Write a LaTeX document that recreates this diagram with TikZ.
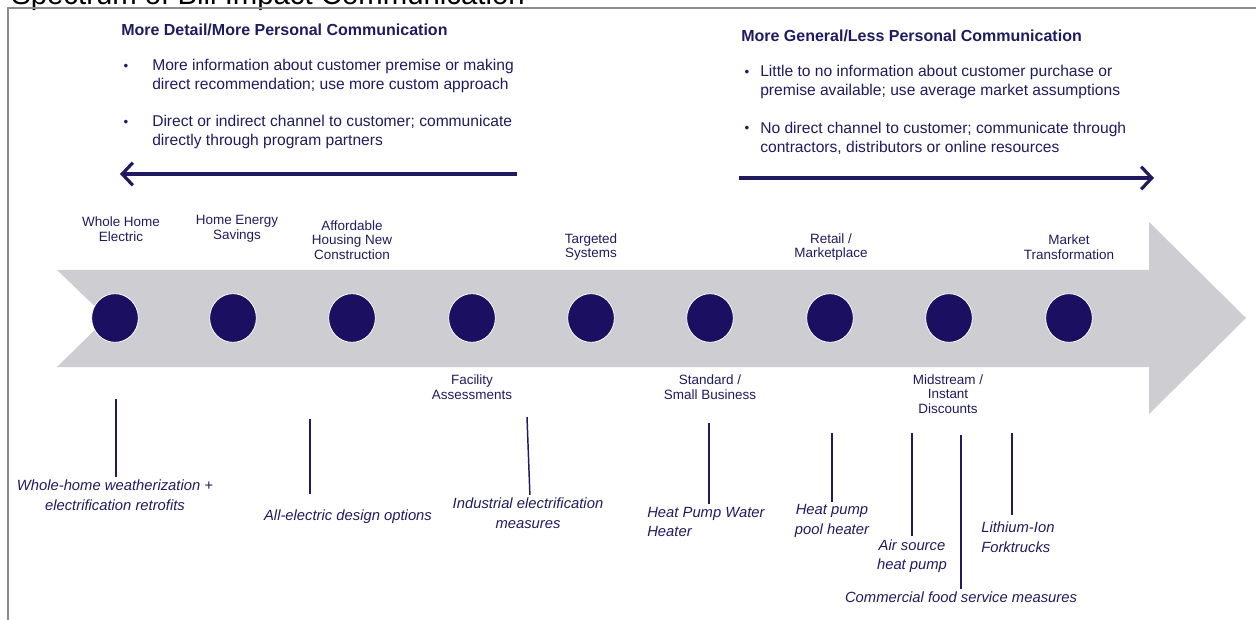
\documentclass[tikz,border=0pt]{standalone}
\usepackage{fontspec}
\setmainfont{Liberation Sans}
\usetikzlibrary{calc,shapes.geometric,arrows.meta}

\definecolor{navy}{RGB}{32,27,96}
\definecolor{dotblue}{RGB}{26,15,96}
\definecolor{bandgray}{RGB}{205,205,210}
\definecolor{framegray}{RGB}{140,140,140}

\begin{document}
\begin{tikzpicture}[x=0.75pt, y=-0.75pt,
  stop/.style={ellipse, fill=dotblue, draw=white, line width=0.6pt, minimum width=35pt, minimum height=36.5pt, inner sep=0pt},
  stage/.style={text=navy, align=center, font=\fontsize{10.1}{10.9}\selectfont, inner sep=0pt},
  measure/.style={text=navy, align=center, font=\fontsize{11.1}{14.6}\selectfont\itshape, inner sep=0pt},
  heading/.style={text=navy, anchor=west, font=\fontsize{12}{14}\selectfont\bfseries, inner sep=0pt},
  point/.style={text=navy, anchor=west, align=left, font=\fontsize{11.7}{14.25}\selectfont, inner sep=0pt},
  dot/.style={text=navy, font=\fontsize{10}{10}\selectfont, inner sep=0pt},
  leader/.style={navy, line width=1.1pt, shorten >=2pt},
  spread/.style={navy, line width=2.6pt, -{Straight Barb[length=8pt, width=17pt, line width=2.4pt]}}]

\useasboundingbox (0,0) rectangle (1256,620);

\node[anchor=base west, inner sep=0pt, font=\fontsize{22}{24}\selectfont] (title) at (11,5) {Spectrum of Bill Impact Communication};

\draw[framegray, line width=1.5pt] (8,620) -- (8,8) -- (1256,8);

% left side: detailed communication
\node[heading] (detail) at (121,30) {More Detail/More Personal Communication};

\node[dot] (d1dot) at (126,67) {•};
\node[point] (d1) at (152,76) {More information about customer premise or making\\direct recommendation; use more custom approach};

\node[dot] (d2dot) at (126,123) {•};
\node[point] (d2) at (152,132) {Direct or indirect channel to customer; communicate\\directly through program partners};

\coordinate (la) at (517,174);
\coordinate (lb) at (120,174);
\draw[spread] (la) -- (lb);

% right side: general communication
\node[heading] (general) at (741,36) {More General/Less Personal Communication};

\node[dot] (g1dot) at (747,73) {•};
\node[point] (g1) at (760,82) {Little to no information about customer purchase or\\premise available; use average market assumptions};

\node[dot] (g2dot) at (747,129) {•};
\node[point] (g2) at (760,138) {No direct channel to customer; communicate through\\contractors, distributors or online resources};

\coordinate (ra) at (739,178);
\coordinate (rb) at (1154,178);
\draw[spread] (ra) -- (rb);

% the band
\fill[bandgray] (57,270) -- (1149,270) -- (1149,222) -- (1246,318) -- (1149,414) -- (1149,367) -- (57,367) -- (107,318) -- cycle;

\node[stop] (c1) at (115,318) {};
\node[stop] (c2) at (233,318) {};
\node[stop] (c3) at (352,318) {};
\node[stop] (c4) at (472,318) {};
\node[stop] (c5) at (591,318) {};
\node[stop] (c6) at (710,318) {};
\node[stop] (c7) at (830,318) {};
\node[stop] (c8) at (949,318) {};
\node[stop] (c9) at (1069,318) {};

\node[stage] (s1) at ($(c1) + (6,-89)$) {Whole Home\\Electric};
\node[stage] (s2) at ($(c2) + (4,-89)$) {Home Energy\\Savings};
\node[stage] (s3) at ($(c3) + (0,-78)$) {Affordable\\Housing New\\Construction};
\node[stage] (s4) at ($(c4) + (0,69)$) {Facility\\Assessments};
\node[stage] (s5) at ($(c5) + (0,-71)$) {Targeted\\Systems};
\node[stage] (s6) at ($(c6) + (0,69)$) {Standard /\\Small Business};
\node[stage] (s7) at ($(c7) + (1,-71)$) {Retail /\\Marketplace};
\node[stage] (s8) at ($(c8) + (-1,76)$) {Midstream /\\Instant\\Discounts};
\node[stage] (s9) at ($(c9) + (0,-71)$) {Market\\Transformation};

% measures hanging below the band
\node[measure] (m1) at (115,495) {Whole-home weatherization +\\electrification retrofits};
\node[measure] (m2) at (348,517) {All-electric design options};
\node[measure] (m3) at (528,513) {Industrial electrification\\measures};
\node[measure, anchor=west, align=left] (m4) at (647,522) {Heat Pump Water\\Heater};
\node[measure] (m5) at (832,521) {Heat pump\\pool heater};
\node[measure] (m6) at (912,556) {Air source\\heat pump};
\node[measure] (m7) at (961,597) {Commercial food service measures};
\node[measure, anchor=west, align=left] (m8) at (981,537) {Lithium-Ion\\Forktrucks};

\coordinate (t1) at (116,399);
\coordinate (t2) at (310,419);
\coordinate (t3) at (527,417);
\coordinate (t4) at (709,423);
\coordinate (t5) at (832,433);
\coordinate (t6) at (912,433);
\coordinate (t7) at (961,435);
\coordinate (t8) at (1012,433);

\draw[leader] (t1) -- (t1 |- m1.north);
\draw[leader, shorten >=12pt] (t2) -- (t2 |- m2.north);
\draw[leader] (t3) -- ([xshift=1.5pt]m3.north);
\draw[leader] (t4) -- (t4 |- m4.north);
\draw[leader] (t5) -- (t5 |- m5.north);
\draw[leader] (t6) -- (t6 |- m6.north);
\draw[leader] (t7) -- (t7 |- m7.north);
\draw[leader, shorten >=5pt] (t8) -- (t8 |- m8.north);

\end{tikzpicture}
\end{document}
